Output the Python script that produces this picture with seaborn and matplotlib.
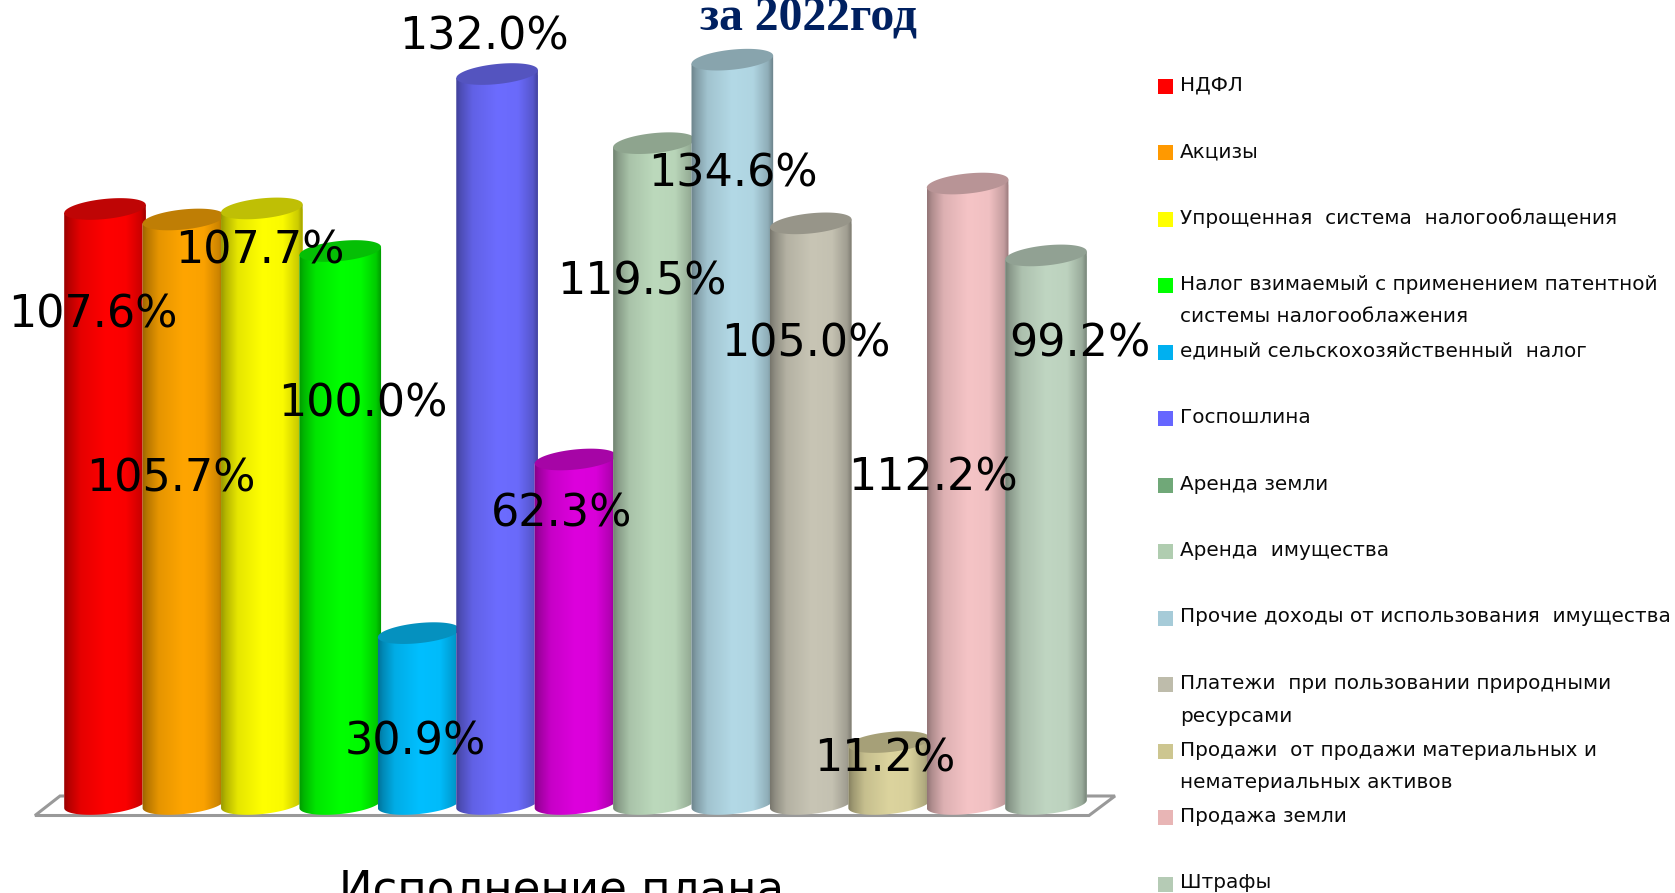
import numpy as np
import pandas as pd
import matplotlib
matplotlib.use("Agg")
import matplotlib.pyplot as plt
from matplotlib.patches import Polygon, Rectangle
from matplotlib.path import Path
from matplotlib.colors import to_rgb
import seaborn as sns

categories = ["НДФЛ", "Акцизы", "Упрощенная  система  налогооблащения",
              "Налог взимаемый с применением патентной\nсистемы налогооблажения",
              "единый сельскохозяйственный  налог", "Госпошлина", "Аренда земли",
              "Аренда  имущества", "Прочие доходы от использования  имущества",
              "Платежи  при пользовании природными\nресурсами",
              "Продажи  от продажи материальных и\nнематериальных активов",
              "Продажа земли", "Штрафы"]
values = [107.6, 105.7, 107.7, 100.0, 30.9, 132.0, 62.3, 119.5, 134.6, 105.0, 11.2, 112.2, 99.2]
bar_colors = ["#FF0000", "#FFA500", "#FFFF00", "#00FF00", "#00BFFF", "#6C6CFF", "#DD00DD",
              "#BCD9BC", "#B3D9E6", "#C8C5B5", "#DCD49E", "#F5C4C6", "#C0D6C2"]
legend_colors = ["#FF0000", "#FF9900", "#FFFF00", "#00FF00", "#00B0F0", "#6666FF", "#70A878",
                 "#B0CDB0", "#A6CBD8", "#BEBCAB", "#CDC690", "#E8B5B5", "#B5CBB5"]
title_text = "за 2022год"
bottom_text = "Исполнение плана"

W, H = 1675, 893
# label centres in pixels (layout only)
label_px = [(93, 315), (171, 479), (260, 251), (363, 404), (415, 742), (484, 37), (562, 514),
            (642, 282), (733, 174), (806, 344), (885, 759), (933, 478), (1080, 344)]

sns.set_theme(style="white")
plt.rcParams["font.family"] = ["DejaVu Sans"]
fig = plt.figure(figsize=(W / 100, H / 100), dpi=100, facecolor="white")

STEP, PXU, BASE = 78.4, 5.53, 804.0
AL, AR, AT = 65.8, 1085.2, 10.0
ax = fig.add_axes([AL / W, 1 - BASE / H, (AR - AL) / W, (BASE - AT) / H])
ax.patch.set_alpha(0)

# floor behind the bars
floor = Polygon([(35 / W, 1 - 815.5 / H), (1089 / W, 1 - 815.5 / H), (1115 / W, 1 - 796 / H), (60 / W, 1 - 796 / H)],
                closed=True, transform=fig.transFigure, facecolor="white", edgecolor="#999999", linewidth=2.2, zorder=0)
fig.add_artist(floor)

df = pd.DataFrame({"category": categories, "value": values})
sns.barplot(data=df, x="category", y="value", hue="category", palette=bar_colors, dodge=False,
            width=82 / STEP, legend=False, saturation=1, ax=ax, order=categories, hue_order=categories)
ax.set_xlim(-0.5, 12.5)
ymax = (BASE - AT) / PXU
ax.set_ylim(0, ymax)
ax.axis("off")

# cylinder shading
A, B, TH = 41.0, 10.0, np.deg2rad(6)
t0 = np.arctan(-(B * np.sin(TH)) / (A * np.cos(TH)))
def ell(t):
    ex = A * np.cos(t) * np.cos(TH) - B * np.sin(t) * np.sin(TH)
    ey = A * np.cos(t) * np.sin(TH) + B * np.sin(t) * np.cos(TH)
    return ex / STEP, ey / PXU

u = np.linspace(0, 1, 200)
profile = np.interp(u, [0, 0.06, 0.2, 0.5, 0.75, 0.93, 1], [0.6, 0.72, 0.9, 1.0, 0.98, 0.8, 0.58])
bars = [c[0] for c in ax.containers]
for i, bar in enumerate(bars):
    cx = bar.get_x() + bar.get_width() / 2
    top = bar.get_height()
    rgb = np.array(to_rgb(bar_colors[i]))
    grad = np.clip(profile[None, :, None] * rgb[None, None, :], 0, 1)
    z = 3 + i
    im = ax.imshow(grad, aspect="auto", interpolation="bilinear", zorder=z,
                   extent=(cx - 41 / STEP, cx + 41 / STEP, -4, top + 4))
    tt = np.linspace(t0 + np.pi, t0 + 2 * np.pi, 60)
    ax_, ay_ = ell(tt)
    rx, ry = ell(np.array([t0]))
    lx, ly = ell(np.array([t0 + np.pi]))
    xs = np.r_[cx + rx, cx + lx, cx + ax_]
    ys = np.r_[top + ry, top + ly, ay_]
    path = Path(np.c_[np.r_[xs, xs[0]], np.r_[ys, ys[0]]], closed=True)
    im.set_clip_path(path, transform=ax.transData)
    im.set_clip_box(fig.bbox)
    bar.set_zorder(z - 0.5)
    bar.set_clip_path(path, transform=ax.transData)
    bar.set_clip_box(fig.bbox)
    tc = np.linspace(0, 2 * np.pi, 120)
    ex, ey = ell(tc)
    cap = Polygon(np.c_[cx + ex, top + ey], closed=True, facecolor=rgb * 0.73 + 0.02, edgecolor="none",
                  zorder=z + 0.5, clip_on=False)
    ax.add_patch(cap)
ax.set_xlim(-0.5, 12.5)
ax.set_ylim(0, ymax)

# data labels
for v, (px, py) in zip(values, label_px):
    fig.text(px / W, 1 - py / H, f"{v:.1f}%", ha="center", va="center", fontsize=32, color="black", zorder=30)

fig.text(808 / W, 1 - 30 / H, title_text, ha="center", va="baseline", fontsize=34.3, fontweight="bold",
         family="Liberation Serif", color="#002060", zorder=30)
fig.text(562 / W, 1 - 902 / H, bottom_text, ha="center", va="baseline", fontsize=32.4, color="black", zorder=30)

# legend
row0, pitch = 85.5, 66.5
for i, (lab, col) in enumerate(zip(categories, legend_colors)):
    y = row0 + i * pitch
    fig.add_artist(Rectangle((1158 / W, 1 - (y + 8) / H), 15 / W, 15 / H, transform=fig.transFigure,
                             facecolor=col, edgecolor="none"))
    for j, line in enumerate(lab.split("\n")):
        fig.text(1180 / W, 1 - (y + 5 + j * 32.5) / H, line, ha="left", va="baseline", fontsize=14.4, color="#0a0a0a")

fig.savefig("out.png", dpi=100, facecolor="white")
